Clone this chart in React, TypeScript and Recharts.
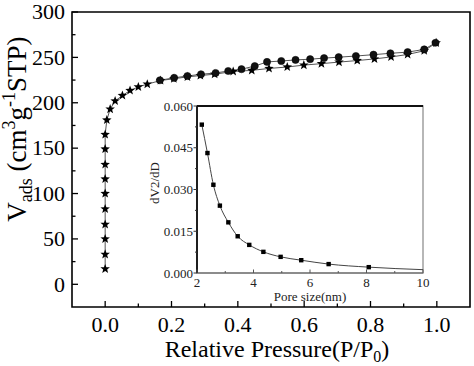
import React from 'react';
import { ComposedChart, Line, XAxis, YAxis, ReferenceArea, ReferenceLine, Label } from 'recharts';

const FONT = "'Liberation Serif', 'Times New Roman', Times, serif";
const fs = (size: number) => ({ fontFamily: FONT, fontSize: size });

// Main isotherm: adsorption (stars)
const adsP = [0, 0, 0, 0, 0, 0, 0, 0, 0, 0, 0.005, 0.015, 0.03, 0.052, 0.075, 0.1, 0.127, 0.167, 0.207, 0.248, 0.287, 0.33, 0.386, 0.442, 0.494, 0.549, 0.599, 0.652, 0.705, 0.76, 0.812, 0.862, 0.912, 0.962, 0.998];
const adsV = [17, 33, 50, 66, 83, 100, 116, 132, 149, 165, 181, 193, 202, 208, 213.5, 217.5, 220.5, 224.5, 226.5, 228.5, 230, 231.5, 234.5, 235.7, 237.8, 239.4, 241.5, 243.1, 244.8, 246.5, 248.3, 250.5, 253.2, 257.3, 266];
// desorption (circles)
const desP = [0.165, 0.208, 0.248, 0.289, 0.333, 0.371, 0.411, 0.451, 0.488, 0.531, 0.574, 0.618, 0.66, 0.704, 0.756, 0.809, 0.86, 0.912, 0.962, 0.996];
const desV = [224.8, 227.5, 229.5, 231.4, 232.8, 235, 237, 240.4, 245, 246, 247.2, 248, 249.2, 250.2, 251.5, 253, 254.5, 255.8, 258.8, 266.1];

const mainXTicks = [0, 0.1, 0.2, 0.3, 0.4, 0.5, 0.6, 0.7, 0.8, 0.9, 1.0];
const mainXMajor = [0, 0.2, 0.4, 0.6, 0.8, 1.0];
const mainYTicks = [0, 25, 50, 75, 100, 125, 150, 175, 200, 225, 250, 275, 300];
const mainYMajor = [0, 50, 100, 150, 200, 250, 300];

// Inset: pore size distribution
const poreSize = [2.17, 2.37, 2.58, 2.81, 3.11, 3.44, 3.85, 4.35, 4.96, 5.69, 6.66, 8.08];
const dvdD = [0.0533, 0.0431, 0.0317, 0.0242, 0.0182, 0.0132, 0.0101, 0.0076, 0.0058, 0.0046, 0.0032, 0.0021];
const tailSize = [10];
const tailVal = [0.0012];

const insetXTicks = [2, 3, 4, 5, 6, 7, 8, 9, 10];
const insetXMajor = [2, 4, 6, 8, 10];
const insetYTicks = [0, 0.0075, 0.015, 0.0225, 0.03, 0.0375, 0.045, 0.0525, 0.06];
const insetYMajor = [0, 0.015, 0.03, 0.045, 0.06];

const adsData = adsP.map((p, i) => ({ p, v: adsV[i] }));
const desData = desP.map((p, i) => ({ p, v: desV[i] }));
const insetData = [
  ...poreSize.map((d, i) => ({ d, y: dvdD[i], m: true })),
  ...tailSize.map((d, i) => ({ d, y: tailVal[i], m: false })),
];

const isIn = (arr: number[], v: number) => arr.some((a) => Math.abs(a - v) < 1e-9);

// widened numerals (the reference's tick digits are slightly stretched)
const numLen = (s: string, size: number) => {
  let em = 0;
  for (const ch of s) em += ch === '.' ? 0.25 : 0.5;
  return em * size * 1.1;
};

const MainXTick = (props: any) => {
  const { x, y, payload } = props;
  const major = isIn(mainXMajor, payload.value);
  const s = payload.value.toFixed(1);
  return (
    <g>
      <line x1={x} y1={y} x2={x} y2={y - (major ? 6 : 3.5)} stroke="#000" strokeWidth={1.3} />
      {major && (
        <text x={x} y={y + 25} textAnchor="middle" style={fs(20)} textLength={numLen(s, 20)} lengthAdjust="spacingAndGlyphs" fill="#000">
          {s}
        </text>
      )}
    </g>
  );
};

const MainYTick = (props: any) => {
  const { x, y, payload } = props;
  const major = isIn(mainYMajor, payload.value);
  const s = String(payload.value);
  return (
    <g>
      <line x1={x} y1={y} x2={x + (major ? 6 : 3.5)} y2={y} stroke="#000" strokeWidth={1.3} />
      {major && (
        <text x={x - 7} y={y} dy="0.36em" textAnchor="end" style={fs(20)} textLength={numLen(s, 20)} lengthAdjust="spacingAndGlyphs" fill="#000">
          {s}
        </text>
      )}
    </g>
  );
};

const InsetXTick = (props: any) => {
  const { x, y, payload } = props;
  const major = isIn(insetXMajor, payload.value);
  return (
    <g>
      <line x1={x} y1={y} x2={x} y2={y - (major ? 3.5 : 2)} stroke="#555" strokeWidth={1} />
      {major && (
        <text x={x} y={y + 14} textAnchor="middle" style={fs(13)} fill="#222">
          {String(payload.value)}
        </text>
      )}
    </g>
  );
};

const InsetYTick = (props: any) => {
  const { x, y, payload } = props;
  const major = isIn(insetYMajor, payload.value);
  return (
    <g>
      <line x1={x} y1={y} x2={x - (major ? 3.5 : 2)} y2={y} stroke="#333" strokeWidth={1} />
      {major && (
        <text x={x - 4} y={y} dy="0.36em" textAnchor="end" style={fs(13)} fill="#222">
          {payload.value.toFixed(3)}
        </text>
      )}
    </g>
  );
};

const starPoints = (cx: number, cy: number, ro: number, ri: number) => {
  const pts: string[] = [];
  for (let k = 0; k < 10; k++) {
    const r = k % 2 === 0 ? ro : ri;
    const a = -Math.PI / 2 + (k * Math.PI) / 5;
    pts.push(`${cx + r * Math.cos(a)},${cy + r * Math.sin(a)}`);
  }
  return pts.join(' ');
};

const StarDot = (props: any) => {
  const { cx, cy, index } = props;
  if (cx == null || cy == null) return <g key={`s${index}`} />;
  return <polygon key={`s${index}`} points={starPoints(cx, cy, 5, 2.1)} fill="#000" />;
};

const CircleDot = (props: any) => {
  const { cx, cy, index } = props;
  if (cx == null || cy == null) return <g key={`c${index}`} />;
  return <circle key={`c${index}`} cx={cx} cy={cy} r={3.6} fill="#111" stroke="#000" strokeWidth={0.5} />;
};

const SquareDot = (props: any) => {
  const { cx, cy, index, payload } = props;
  if (cx == null || cy == null || !payload || !payload.m) return <g key={`q${index}`} />;
  return <rect key={`q${index}`} x={cx - 2.2} y={cy - 2.2} width={4.4} height={4.4} fill="#000" />;
};

const MainYLabel = (props: any) => {
  const vb = props.viewBox || { x: 0, y: 12, width: 72, height: 295 };
  const x = vb.x + 26;
  const y = vb.y + 117;
  return (
    <text x={x} y={y} transform={`rotate(-90, ${x}, ${y})`} textAnchor="middle" style={fs(27)} fill="#000">
      <tspan>V</tspan>
      <tspan style={fs(18)} dy={6}>ads</tspan>
      <tspan dy={-6}> (cm</tspan>
      <tspan style={fs(18)} dy={-11}>3</tspan>
      <tspan dy={11}>g</tspan>
      <tspan style={fs(18)} dy={-11}>-1</tspan>
      <tspan dy={11}>STP)</tspan>
    </text>
  );
};

const MainXLabel = (props: any) => {
  const vb = props.viewBox || { x: 72, y: 307, width: 398, height: 59 };
  const x = vb.x + vb.width / 2 + 6;
  const y = vb.y + 50;
  return (
    <text x={x} y={y} textAnchor="middle" style={fs(24)} fill="#000">
      <tspan>Relative Pressure(P/P</tspan>
      <tspan style={fs(16)} dy={5}>0</tspan>
      <tspan dy={-5}>)</tspan>
    </text>
  );
};

const InsetYLabel = (props: any) => {
  const vb = props.viewBox || { x: 0, y: 6, width: 57, height: 167 };
  const x = vb.x + 19;
  const y = vb.y + 77;
  return (
    <text x={x} y={y} transform={`rotate(-90, ${x}, ${y})`} textAnchor="middle" style={fs(13)} fill="#222">
      dV2/dD
    </text>
  );
};

const InsetXLabel = (props: any) => {
  const vb = props.viewBox || { x: 57, y: 173, width: 226, height: 32 };
  const x = vb.x + vb.width / 2;
  const y = vb.y + 28;
  return (
    <text x={x} y={y} textAnchor="middle" style={fs(13)} fill="#222">
      Pore size(nm)
    </text>
  );
};

export default function App() {
  return (
    <div style={{ position: 'absolute', left: 0, top: 0, width: 474, height: 366, background: '#fff', fontFamily: FONT }}>
      <div style={{ position: 'absolute', left: 0, top: 0 }}>
        <ComposedChart width={474} height={366} margin={{ top: 12, right: 4, bottom: 0, left: 0 }}>
          <XAxis
            type="number"
            dataKey="p"
            domain={[-0.1, 1.1]}
            ticks={mainXTicks}
            interval={0}
            tickLine={false}
            axisLine={false}
            tickSize={0}
            tickMargin={0}
            height={59}
            allowDataOverflow
            tick={(p: any) => <MainXTick {...p} />}
          >
            <Label content={(p: any) => <MainXLabel {...p} />} />
          </XAxis>
          <YAxis
            type="number"
            domain={[-25, 300]}
            ticks={mainYTicks}
            interval={0}
            tickLine={false}
            axisLine={false}
            tickSize={0}
            tickMargin={0}
            width={72}
            allowDataOverflow
            tick={(p: any) => <MainYTick {...p} />}
          >
            <Label content={(p: any) => <MainYLabel {...p} />} />
          </YAxis>
          <ReferenceArea x1={-0.1} x2={1.1} y1={-25} y2={300} fill="none" fillOpacity={0} stroke="#000" strokeWidth={1.6} ifOverflow="visible" />
          <Line data={adsData} dataKey="v" type="linear" stroke="#555" strokeWidth={1} dot={(p: any) => <StarDot {...p} />} activeDot={false} isAnimationActive={false} />
          <Line data={desData} dataKey="v" type="linear" stroke="#555" strokeWidth={1} dot={(p: any) => <CircleDot {...p} />} activeDot={false} isAnimationActive={false} />
        </ComposedChart>
      </div>
      <div style={{ position: 'absolute', left: 140, top: 100 }}>
        <ComposedChart width={300} height={205} data={insetData} margin={{ top: 6, right: 17, bottom: 0, left: 0 }}>
          <XAxis
            type="number"
            dataKey="d"
            domain={[2, 10]}
            ticks={insetXTicks}
            interval={0}
            tickLine={false}
            axisLine={{ stroke: '#666', strokeWidth: 1.2 }}
            tickSize={0}
            tickMargin={0}
            height={32}
            allowDataOverflow
            tick={(p: any) => <InsetXTick {...p} />}
          >
            <Label content={(p: any) => <InsetXLabel {...p} />} />
          </XAxis>
          <YAxis
            type="number"
            domain={[0, 0.06]}
            ticks={insetYTicks}
            interval={0}
            tickLine={false}
            axisLine={{ stroke: '#111', strokeWidth: 1.4 }}
            tickSize={0}
            tickMargin={0}
            width={57}
            allowDataOverflow
            tick={(p: any) => <InsetYTick {...p} />}
          >
            <Label content={(p: any) => <InsetYLabel {...p} />} />
          </YAxis>
          <ReferenceArea x1={2} x2={10} y1={0} y2={0.06} fill="none" fillOpacity={0} stroke="#999" strokeWidth={1.4} ifOverflow="visible" />
          <ReferenceLine y={0.06} stroke="#111" strokeWidth={2} ifOverflow="visible" />
          <ReferenceLine x={2} stroke="#111" strokeWidth={1.4} ifOverflow="visible" />
          <Line dataKey="y" type="monotone" stroke="#444" strokeWidth={1} dot={(p: any) => <SquareDot {...p} />} activeDot={false} isAnimationActive={false} />
        </ComposedChart>
      </div>
    </div>
  );
}
